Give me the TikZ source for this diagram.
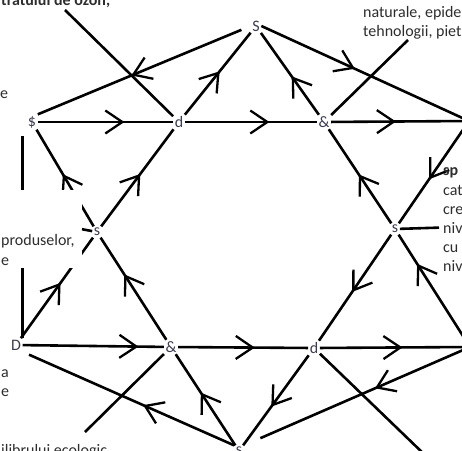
\documentclass[tikz,border=0pt]{standalone}
\usepackage{fontspec}
\setmainfont{Carlito}
\usetikzlibrary{arrows.meta,decorations.markings}
\definecolor{etich}{RGB}{60,60,80}
\definecolor{grigio}{RGB}{45,45,45}
\tikzset{
  lato/.style={line width=2.6pt},
  freccia/.style={postaction={decorate},
    decoration={markings, mark=at position #1 with {\arrow{Straight Barb[length=17pt,width=23pt,line width=2.3pt]}}}},
  etic/.style={text=etich, inner sep=1.5pt, font=\fontsize{16}{19}\selectfont},
  testo/.style={text=grigio, inner sep=0pt, anchor=base west, font=\fontsize{16}{19}\selectfont},
  grassetto/.style={testo, font=\fontsize{16}{19}\selectfont\bfseries},
}
\begin{document}
\begin{tikzpicture}[x=1pt,y=-1pt]
  \useasboundingbox (0,0) rectangle (462,450);
  % Nodi
  \node[etic] (S) at (256,26) {S};
  \node[etic] (dol) at (32,122) {\$};
  \node[etic] (d1) at (179,122) {d};
  \node[etic] (e1) at (324,122) {\&};
  \node[etic] (s1) at (97,232) {s};
  \node[etic] (s2) at (395,229) {s};
  \node[etic] (D) at (16,345) {D};
  \node[etic] (e2) at (171,347) {\&};
  \node[etic] (d2) at (314,348) {d};
  \node[etic] (sb) at (239,451) {s};
  \coordinate (R1) at (469,121);
  \coordinate (R2) at (470,347);
  \coordinate (ozon) at (65,10);
  \coordinate (tehn) at (408,40);
  \coordinate (echi) at (85,432);
  \coordinate (jos) at (426,456);
  % Stella
  \draw[lato, freccia=0.64] (dol) -- (d1);
  \draw[lato, freccia=0.64] (d1) -- (e1);
  \draw[lato, freccia=0.47] (e1) -- (R1);
  \draw[lato, freccia=0.82] (D) -- (e2);
  \draw[lato, freccia=0.59] (e2) -- (d2);
  \draw[lato, freccia=0.55] (d2) -- (R2);
  \draw[lato, freccia=0.53] (d1) -- (S);
  \draw[lato, freccia=0.54] (s1) -- (d1);
  \draw[lato, freccia=0.55] (D) -- (s1);
  \draw[lato, freccia=0.47] (e1) -- (S);
  \draw[lato, freccia=0.52] (s2) -- (e1);
  \draw[lato, freccia=0.74] (R2) -- (s2);
  \draw[lato, freccia=0.54] (s1) -- (dol);
  \draw[lato, freccia=0.64] (e2) -- (s1);
  \draw[lato, freccia=0.58] (sb) -- (e2);
  \draw[lato, freccia=0.57] (R1) -- (s2);
  \draw[lato, freccia=0.54] (s2) -- (d2);
  \draw[lato, freccia=0.57] (d2) -- (sb);
  % Altre linee
  \draw[lato, freccia=0.56, shorten <=10pt] (S.west) -- (dol.north east);
  \draw[lato, freccia=0.45] (S.east) -- (R1);
  \draw[lato, freccia=0.43, shorten >=7pt] (sb.north west) -- (D.south east);
  \draw[lato, freccia=0.42, shorten >=18pt] (R2) -- (sb.north east);
  \draw[lato] (ozon) -- (d1);
  \draw[lato] (e1) -- (tehn);
  \draw[lato] (e2) -- (echi);
  \draw[lato] (d2) -- (jos);
  \draw[lato, shorten >=6pt] (D.north east) -- (D.north east |- dol.south);
  % Testi
  \node[fill=white, anchor=north east, minimum width=100pt, minimum height=78pt, inner sep=0pt] (cutie) at (82,190) {};
  \draw[lato] (cutie.east) -- (s1);
  \node[grassetto] (t0) at (1,5) {tratului de ozon,};
  \node[testo] (t1) at (0,98) {e};
  \node[testo] (t2) at (1,245) {produselor,};
  \node[testo] (t3) at (1,265) {e};
  \node[testo] (t4) at (1,377) {a};
  \node[testo] (t5) at (1,396) {e};
  \node[testo] (t6) at (1,455) {ilibrului ecologic,};
  \node[testo] (t7) at (363,17) {naturale, epide};
  \node[testo] (t8) at (363,36) {tehnologii, piet};
  \node[grassetto] (r1) at (443,175) {sp};
  \node[testo] (r2) at (443,195) {cat};
  \node[testo] (r3) at (443,214) {cre};
  \node[testo] (r4) at (443,233) {niv};
  \node[testo] (r5) at (443,252) {cu};
  \node[testo] (r6) at (443,271) {niv};
  \draw[lato, shorten >=4pt] (s2) -- (r4.west);
\end{tikzpicture}
\end{document}
